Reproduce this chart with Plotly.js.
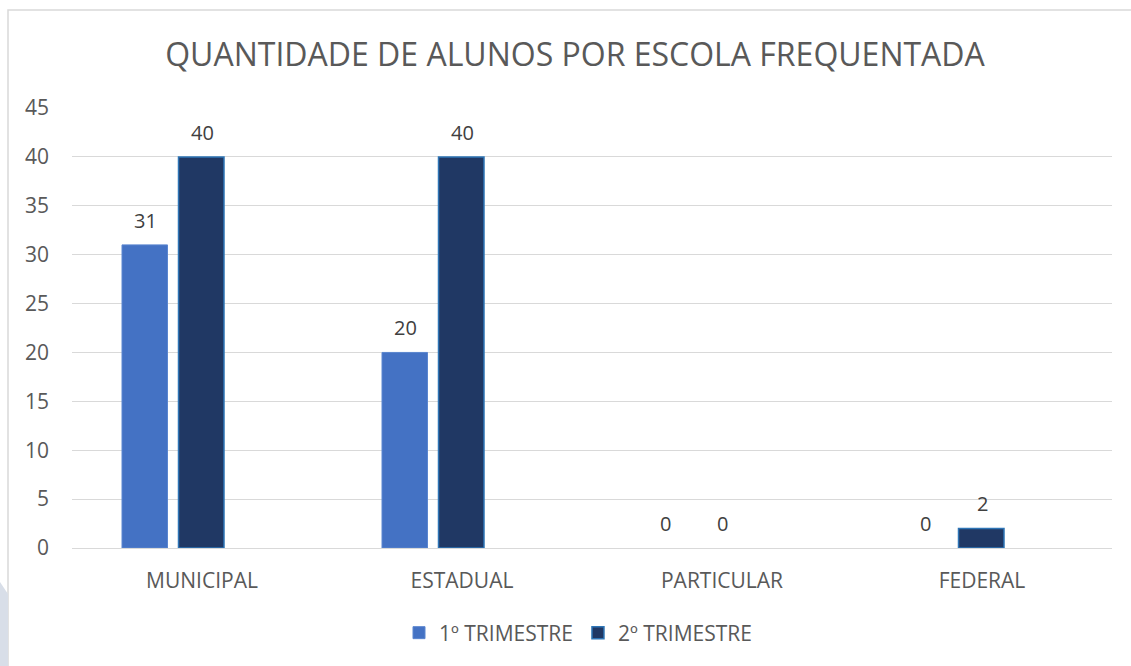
<!DOCTYPE html>
<html>
<head>
<meta charset="utf-8">
<script src="https://cdn.plot.ly/plotly-3.0.1.min.js"></script>
<style>html,body{margin:0;padding:0;background:#fff;}#chart{width:1131px;height:666px;}</style>
</head>
<body>
<div id="chart"></div>
<script>
const categories = ["MUNICIPAL", "ESTADUAL", "PARTICULAR", "FEDERAL"];
const seriesNames = ["1º TRIMESTRE", "2º TRIMESTRE"];
const trimestre1 = [31, 20, 0, 0];
const trimestre2 = [40, 40, 0, 2];
const yTicks = [0, 5, 10, 15, 20, 25, 30, 35, 40, 45];
const chartTitle = "QUANTIDADE DE ALUNOS POR ESCOLA FREQUENTADA";

const FONT = "'Open Sans', 'Noto Sans', sans-serif";
const labelFont = {family: FONT, size: 20, color: "#404040"};

const series = [
  {name: seriesNames[0], values: trimestre1, fill: "#4472C4", edge: "#5B86D0", edgeW: 1, offset: -0.3077, shift: -57},
  {name: seriesNames[1], values: trimestre2, fill: "#203864", edge: "#2E75B6", edgeW: 1.5, offset: -0.0904, shift: 0}
];

const traces = series.map(s => ({
  type: "bar", name: s.name, x: categories, y: s.values,
  marker: {color: s.fill, line: {color: s.edge, width: s.values.map(v => v === 0 ? 0 : s.edgeW)}},
  width: 0.175, offset: s.offset,
  hoverinfo: "x+y+name"
}));

const annotations = [];
series.forEach(s => {
  s.values.forEach((v, i) => {
    annotations.push({
      x: categories[i], y: v, xref: "x", yref: "y",
      text: String(v), showarrow: false,
      xshift: s.shift, yshift: 9, yanchor: "bottom", xanchor: "center",
      font: labelFont
    });
  });
});

const layout = {
  width: 1131, height: 666,
  paper_bgcolor: "#ffffff", plot_bgcolor: "#ffffff",
  margin: {l: 72, r: 19, t: 108, b: 118},
  font: {family: FONT, color: "#595959", size: 21},
  title: {
    text: chartTitle,
    font: {family: FONT, size: 32, color: "#595959"},
    x: 575/1131, xref: "container", xanchor: "center",
    y: 1 - 55/666, yref: "container", yanchor: "middle"
  },
  barmode: "group",
  xaxis: {
    type: "category",
    showgrid: false, zeroline: false, showline: false,
    ticks: "", ticklabelstandoff: 18,
    tickfont: {family: FONT, size: 21, color: "#595959"}
  },
  yaxis: {
    range: [0, 45], tickvals: yTicks, ticktext: yTicks.map(String),
    showgrid: true, gridcolor: "#D9D9D9", gridwidth: 1.3,
    zeroline: true, zerolinecolor: "#D9D9D9", zerolinewidth: 1.3,
    showline: false, ticks: "", ticklabelstandoff: 22,
    tickfont: {family: FONT, size: 21, color: "#595959"}
  },
  showlegend: true,
  legend: {
    orientation: "h", x: 578/1131, xref: "container", xanchor: "center",
    y: 1 - 633/666, yref: "container", yanchor: "middle",
    font: {family: FONT, size: 21, color: "#595959"},
    itemwidth: 30, traceorder: "normal", bgcolor: "rgba(0,0,0,0)"
  },
  annotations: annotations,
  shapes: [
    {type: "rect", xref: "paper", yref: "paper",
     x0: -64/1040, x1: 1150/1040 - 72/1040, y0: -130/440, y1: 1 + 98/440,
     line: {color: "#D9D9D9", width: 1.5}, fillcolor: "rgba(0,0,0,0)", layer: "below"},
    {type: "path", xref: "paper", yref: "paper",
     path: "M " + (-72/1040) + "," + (-34/440) + " L " + (-64/1040) + "," + (-46/440) +
           " L " + (-64/1040) + "," + (-118/440) + " L " + (-72/1040) + "," + (-118/440) + " Z",
     line: {width: 0}, fillcolor: "#D8DEE8", layer: "below"}
  ]
};

Plotly.newPlot("chart", traces, layout, {displayModeBar: false, responsive: false});
</script>
</body>
</html>
